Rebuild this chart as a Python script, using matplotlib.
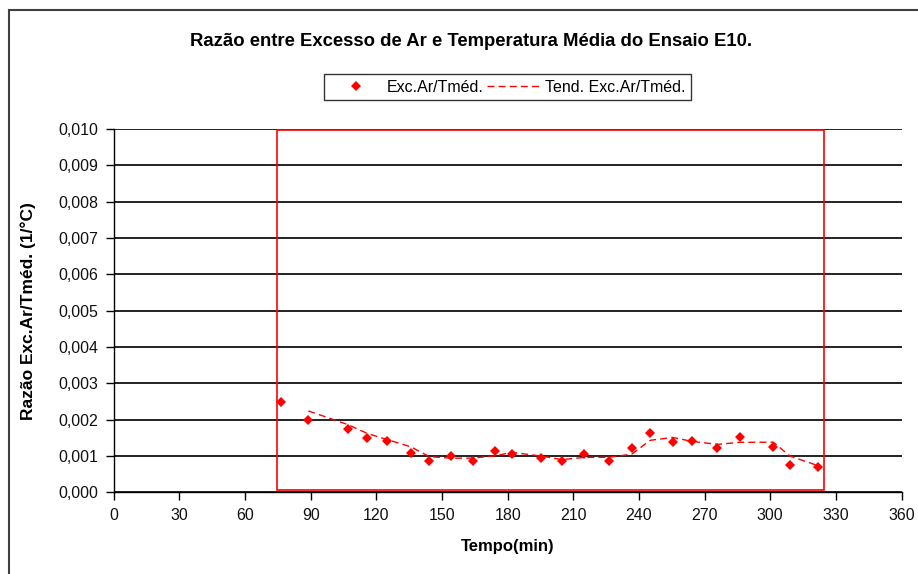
import matplotlib
matplotlib.use("Agg")
import matplotlib.pyplot as plt
from matplotlib.patches import Rectangle
from matplotlib.lines import Line2D
import numpy as np
import pandas as pd

plt.rcParams['font.family'] = ['Liberation Sans', 'DejaVu Sans']

# Data
tempo = [76.4, 88.9, 106.9, 115.9, 124.7, 135.8, 144.2, 154.1, 164.0, 174.4,
         181.9, 195.1, 205.0, 214.9, 226.5, 236.7, 245.1, 255.4, 264.4, 275.8,
         286.2, 301.4, 309.1, 322.0]
razao = [0.00249, 0.00199, 0.00174, 0.00150, 0.00141, 0.00109, 0.00087, 0.00101,
         0.00087, 0.00114, 0.00106, 0.00094, 0.00086, 0.00106, 0.00087, 0.00123,
         0.00163, 0.00139, 0.00141, 0.00123, 0.00152, 0.00124, 0.00075, 0.00071]

x_ticks = [0, 30, 60, 90, 120, 150, 180, 210, 240, 270, 300, 330, 360]
x_ticklabels = ['0', '30', '60', '90', '120', '150', '180', '210', '240', '270',
                '300', '330', '360']
y_ticks = [0.000, 0.001, 0.002, 0.003, 0.004, 0.005, 0.006, 0.007, 0.008, 0.009, 0.010]
y_ticklabels = ['0,000', '0,001', '0,002', '0,003', '0,004', '0,005', '0,006',
                '0,007', '0,008', '0,009', '0,010']

# highlight rectangle (data coords): x0, x1, y0, y1
highlight = (74.6, 324.6, 0.00005, 0.00997)

# Moving-average trendline (period 2), as in the original spreadsheet chart
tend = pd.Series(razao).rolling(2).mean().to_numpy()

fig = plt.figure(figsize=(9.18, 5.74), dpi=100)
ax = fig.add_axes([113.8 / 918, 1 - 492.3 / 574, (901.5 - 113.8) / 918, (492.3 - 129) / 574])

ax.set_xlim(0, 360)
ax.set_ylim(0, 0.010)
ax.set_xticks(x_ticks)
ax.set_xticklabels(x_ticklabels)
ax.set_yticks(y_ticks)
ax.set_yticklabels(y_ticklabels)
ax.tick_params(axis='both', direction='out', length=6, width=1, color='black',
               labelsize=11.5, pad=5, labelcolor='#111111')

for s in ['top', 'right']:
    ax.spines[s].set_visible(False)
for s in ['left', 'bottom']:
    ax.spines[s].set_color('black')
    ax.spines[s].set_linewidth(1)

ax.yaxis.grid(True, color='#111111', linewidth=1.3)
ax.set_axisbelow(True)

ax.add_patch(Rectangle((highlight[0], highlight[2]), highlight[1] - highlight[0],
                       highlight[3] - highlight[2], fill=False, edgecolor='red',
                       linewidth=1.2, zorder=3))

ax.plot(tempo, razao, linestyle='none', marker='D', markersize=5.5, color='red',
        markeredgewidth=0, label='Exc.Ar/Tméd.', zorder=5)
ax.plot(tempo, tend, linestyle=(0, (5, 3)), color='red', linewidth=1,
        label='Tend. Exc.Ar/Tméd.', zorder=4)

fig.text(471 / 918, 1 - 42 / 574,
         'Razão entre Excesso de Ar e Temperatura Média do Ensaio E10.',
         ha='center', va='center', fontsize=13.3, fontweight='bold')

ax.set_xlabel('Tempo(min)', fontsize=12, fontweight='bold', labelpad=12)
ax.set_ylabel('Razão Exc.Ar/Tméd. (1/°C)', fontsize=12.5, fontweight='bold', labelpad=16)

leg = fig.legend(loc='center', bbox_to_anchor=(507.5 / 918, 1 - 87 / 574), ncol=2,
                 fontsize=11.5, frameon=True, fancybox=False, edgecolor='black',
                 handlelength=3.3, columnspacing=0.2, handletextpad=0.3,
                 borderpad=0.35)
leg.get_frame().set_linewidth(1)

# figure border (dark gray lines at left and top)
fig.add_artist(Line2D([8.5 / 918, 8.5 / 918], [0, 1 - 10 / 574], color='#404040',
                      linewidth=1.5, transform=fig.transFigure))
fig.add_artist(Line2D([8.5 / 918, 1], [1 - 10 / 574, 1 - 10 / 574], color='#404040',
                      linewidth=1.5, transform=fig.transFigure))

fig.savefig('out.png', dpi=100)
